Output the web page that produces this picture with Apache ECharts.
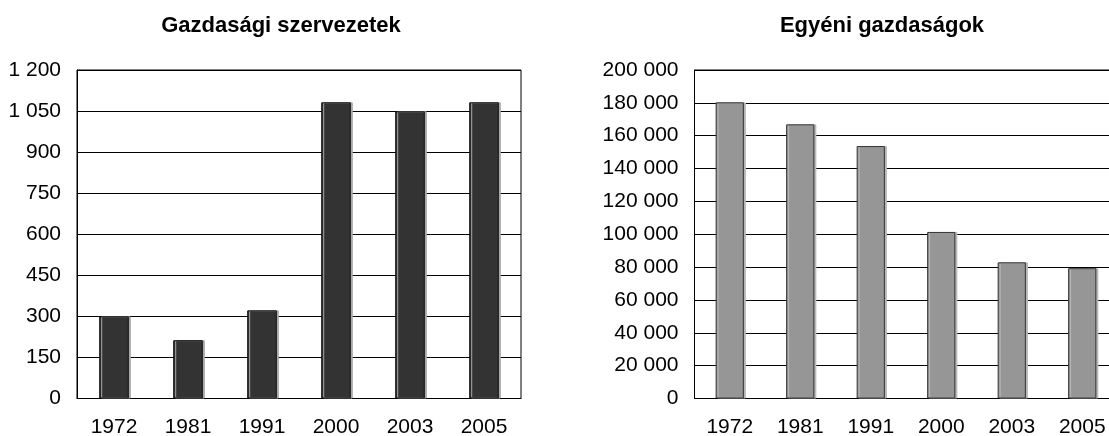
<!DOCTYPE html>
<html>
<head>
<meta charset="utf-8">
<script src="https://cdn.jsdelivr.net/npm/echarts@6/dist/echarts.min.js"></script>
<style>
html,body{margin:0;padding:0;background:#fff;}
#chart{width:1109px;height:436px;}
</style>
</head>
<body>
<div id="chart"></div>
<script>
const categories = ['1972', '1981', '1991', '2000', '2003', '2005'];
const titleLeft = 'Gazdasági szervezetek';
const titleRight = 'Egyéni gazdaságok';
const valuesLeft = [300, 213, 322, 1082, 1049, 1082];
const valuesRight = [180300, 166900, 153700, 101400, 82900, 79300];
const axisLeft = { min: 0, max: 1200, interval: 150 };
const axisRight = { min: 0, max: 200000, interval: 20000 };

const FONT = '"Liberation Sans", Arial, sans-serif';

function fmt(v) {
  return String(Math.round(v)).replace(/\B(?=(\d{3})+(?!\d))/g, ' ');
}

const chart = echarts.init(document.getElementById('chart'), null, { renderer: 'canvas' });

function xAxisCfg(gi) {
  return {
    type: 'category', gridIndex: gi, data: categories,
    axisLine: { lineStyle: { color: '#000', width: 1 } },
    axisTick: { show: false },
    axisLabel: { color: '#000', fontSize: 21, fontFamily: FONT, margin: 18 }
  };
}
function yAxisCfg(gi, a) {
  return {
    type: 'value', gridIndex: gi, min: a.min, max: a.max, interval: a.interval,
    axisLine: { show: true, lineStyle: { color: '#000', width: 1 } },
    axisTick: { show: false },
    splitLine: { show: true, lineStyle: { color: '#000', width: 1 } },
    axisLabel: { color: '#000', fontSize: 21, fontFamily: FONT, margin: 16, formatter: fmt }
  };
}

chart.setOption({
  animation: false,
  backgroundColor: '#fff',
  graphic: [
    { type: 'text', x: 281, y: 26, style: { text: titleLeft, font: 'bold 22px ' + FONT, fill: '#000', textAlign: 'center', textVerticalAlign: 'middle' } },
    { type: 'text', x: 882, y: 26, style: { text: titleRight, font: 'bold 22px ' + FONT, fill: '#000', textAlign: 'center', textVerticalAlign: 'middle' } }
  ],
  grid: [
    { left: 77, top: 70, width: 444, height: 328.5, show: true, borderColor: '#000', borderWidth: 1, backgroundColor: 'transparent', outerBoundsMode: 'none', containLabel: false },
    { left: 694.5, top: 70, width: 423, height: 328.5, show: true, borderColor: '#000', borderWidth: 1, backgroundColor: 'transparent', outerBoundsMode: 'none', containLabel: false }
  ],
  xAxis: [xAxisCfg(0), xAxisCfg(1)],
  yAxis: [yAxisCfg(0, axisLeft), yAxisCfg(1, axisRight)],
  series: [
    {
      type: 'bar', xAxisIndex: 0, yAxisIndex: 0, data: valuesLeft, barWidth: '40%',
      itemStyle: { color: '#333333', borderColor: '#111', borderWidth: 1, shadowColor: '#a8a8a8', shadowOffsetX: 2, shadowOffsetY: 0, shadowBlur: 0 }
    },
    {
      type: 'bar', xAxisIndex: 1, yAxisIndex: 1, data: valuesRight, barWidth: '40%',
      itemStyle: { color: '#969696', borderColor: '#333', borderWidth: 1, shadowColor: '#b8b8b8', shadowOffsetX: 2, shadowOffsetY: 0, shadowBlur: 0 }
    }
  ]
});
</script>
</body>
</html>
